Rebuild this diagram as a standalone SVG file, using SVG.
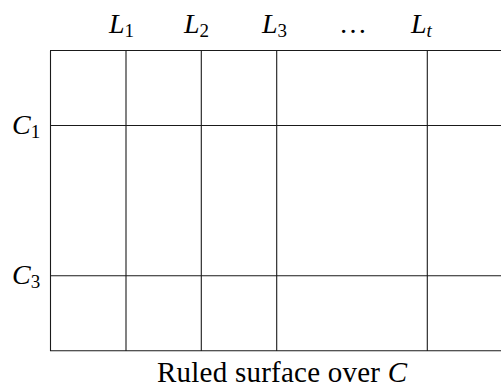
<svg xmlns="http://www.w3.org/2000/svg" width="501" height="390" viewBox="0 0 501 390">
  <style>
    .grid { stroke: #1a1a1a; stroke-width: 1.1; fill: none; }
    .t { font-family: "Liberation Serif", "Times New Roman", serif; font-size: 28px; fill: #000; }
    .m { font-style: italic; }
    .sub { font-size: 19px; font-style: normal; }
    .subi { font-size: 19px; font-style: italic; }
  </style>
  <rect width="501" height="390" fill="#fff"/>
  <g id="connectors">
    <line class="grid" x1="50.5" y1="50.5" x2="50.5" y2="351"/>
    <line class="grid" x1="126" y1="50.5" x2="126" y2="351"/>
    <line class="grid" x1="201.3" y1="50.5" x2="201.3" y2="351"/>
    <line class="grid" x1="276.7" y1="50.5" x2="276.7" y2="351"/>
    <line class="grid" x1="427.3" y1="50.5" x2="427.3" y2="351"/>
    <line class="grid" x1="50" y1="50.5" x2="501" y2="50.5"/>
    <line class="grid" x1="50" y1="125.5" x2="501" y2="125.5"/>
    <line class="grid" x1="50" y1="275.8" x2="501" y2="275.8"/>
    <line class="grid" x1="50" y1="350.8" x2="501" y2="350.8"/>
  </g>
  <g id="L1"><text class="t m" x="109" y="33">L<tspan class="sub" dy="4">1</tspan></text></g>
  <g id="L2"><text class="t m" x="184" y="33">L<tspan class="sub" dy="4">2</tspan></text></g>
  <g id="L3"><text class="t m" x="262" y="33">L<tspan class="sub" dy="4">3</tspan></text></g>
  <g id="dots"><text class="t" x="353" y="33" text-anchor="middle">…</text></g>
  <g id="Lt"><text class="t m" x="411" y="33">L<tspan class="subi" dy="4">t</tspan></text></g>
  <g id="C1"><text class="t m" x="12" y="133.5">C<tspan class="sub" dy="4">1</tspan></text></g>
  <g id="C3"><text class="t m" x="12" y="283.5">C<tspan class="sub" dy="4">3</tspan></text></g>
  <g id="caption"><text class="t" x="157" y="382" style="font-size:29px" textLength="250" lengthAdjust="spacing">Ruled surface over <tspan class="m">C</tspan></text></g>
</svg>
